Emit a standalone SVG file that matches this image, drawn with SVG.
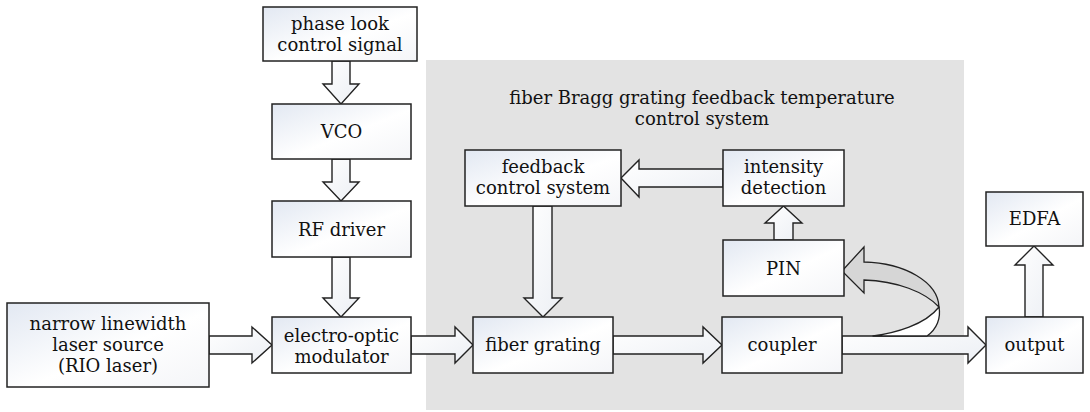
<svg xmlns="http://www.w3.org/2000/svg" width="1090" height="412" viewBox="0 0 1090 412">
<defs>
<linearGradient id="boxg" x1="0" y1="0" x2="1" y2="1">
<stop offset="0" stop-color="#e2e8f2"/>
<stop offset="0.55" stop-color="#ffffff"/>
<stop offset="1" stop-color="#f4f5f8"/>
</linearGradient>
<linearGradient id="arrg" x1="0" y1="0" x2="1" y2="1">
<stop offset="0" stop-color="#ffffff"/>
<stop offset="1" stop-color="#eceff4"/>
</linearGradient>
<style>
.box{fill:url(#boxg);stroke:#222;stroke-width:1.5}
.arr{fill:url(#arrg);stroke:#222;stroke-width:1.4;stroke-linejoin:miter}
.t{font-family:"DejaVu Serif","Liberation Serif",serif;font-size:18px;fill:#111;text-anchor:middle}
</style>
</defs>
<rect width="1090" height="412" fill="#ffffff"/>
<g id="region">
<rect x="426" y="60" width="538" height="350" fill="#e3e3e3"/>
<text class="t" x="702" y="104">fiber Bragg grating feedback temperature</text>
<text class="t" x="702" y="125">control system</text>
</g>
<g id="connectors">
<!-- vertical down arrows: shaft 18 wide, head 36 wide -->
<path class="arr" d="M332,61 V84 H323 L341,104 L359,84 H350 V61 Z"/>
<path class="arr" d="M332,159 V182 H323 L341,201 L359,182 H350 V159 Z"/>
<path class="arr" d="M332,257 V298 H323 L341,317 L359,298 H350 V257 Z"/>
<path class="arr" d="M533,206 V298 H524 L543,317 L562,298 H552 V206 Z"/>
<!-- up arrows -->
<path class="arr" d="M774,240 V223 H765 L783.5,206 L802,223 H793 V240 Z"/>
<path class="arr" d="M1025,317 V265 H1015 L1034,246 L1053,265 H1043 V317 Z"/>
<!-- left arrow intensity -> feedback -->
<path class="arr" d="M723,169 H639 V160 L621,178 L639,197 V187 H723 Z"/>
<!-- horizontal right arrows -->
<path class="arr" d="M209,336 H252 V327 L272,345 L252,363 V354 H209 Z"/>
<path class="arr" d="M411,336 H455 V327 L473,345 L455,363 V354 H411 Z"/>
<path class="arr" d="M613,336 H703 V327 L722,345 L703,363 V354 H613 Z"/>
<path class="arr" d="M842,336 H968 V327 L986,345 L968,363 V354 H842 Z"/>
<!-- curved ribbon arrow from coupler output to PIN -->
<path d="M873,336 C895,333 925,325 939,307 C941,318 937,329 927,336 Z" fill="#ffffff" stroke="#222" stroke-width="1.3" stroke-linejoin="round"/>
<path d="M939,307 C938,282 905,263 864,262 V247 L842,271 L864,293 V280 C897,281 925,292 939,307 Z" fill="#d6d6d6" stroke="#222" stroke-width="1.3" stroke-linejoin="miter"/>
</g>
<g id="n-phase">
<rect class="box" x="263" y="7" width="154" height="54"/>
<text class="t" x="340" y="30">phase look</text>
<text class="t" x="340" y="51">control signal</text>
</g>
<g id="n-vco">
<rect class="box" x="272" y="104" width="139" height="55"/>
<text class="t" x="341.5" y="138">VCO</text>
</g>
<g id="n-rf">
<rect class="box" x="272" y="201" width="139" height="56"/>
<text class="t" x="341.5" y="236">RF driver</text>
</g>
<g id="n-laser">
<rect class="box" x="7" y="303" width="202" height="84"/>
<text class="t" x="108" y="330">narrow linewidth</text>
<text class="t" x="108" y="351">laser source</text>
<text class="t" x="108" y="372">(RIO laser)</text>
</g>
<g id="n-eom">
<rect class="box" x="272" y="317" width="139" height="56"/>
<text class="t" x="341.5" y="342">electro-optic</text>
<text class="t" x="341.5" y="363">modulator</text>
</g>
<g id="n-feedback">
<rect class="box" x="465" y="150" width="156" height="56"/>
<text class="t" x="543" y="173">feedback</text>
<text class="t" x="543" y="194">control system</text>
</g>
<g id="n-intensity">
<rect class="box" x="723" y="150" width="121" height="56"/>
<text class="t" x="783.5" y="173">intensity</text>
<text class="t" x="783.5" y="194">detection</text>
</g>
<g id="n-pin">
<rect class="box" x="723" y="240" width="121" height="56"/>
<text class="t" x="783.5" y="275">PIN</text>
</g>
<g id="n-fiber">
<rect class="box" x="473" y="317" width="140" height="56"/>
<text class="t" x="543" y="351">fiber grating</text>
</g>
<g id="n-coupler">
<rect class="box" x="722" y="317" width="120" height="56"/>
<text class="t" x="782" y="351">coupler</text>
</g>
<g id="n-output">
<rect class="box" x="986" y="317" width="97" height="56"/>
<text class="t" x="1034.5" y="351">output</text>
</g>
<g id="n-edfa">
<rect class="box" x="986" y="192" width="97" height="54"/>
<text class="t" x="1034.5" y="225">EDFA</text>
</g>
</svg>
